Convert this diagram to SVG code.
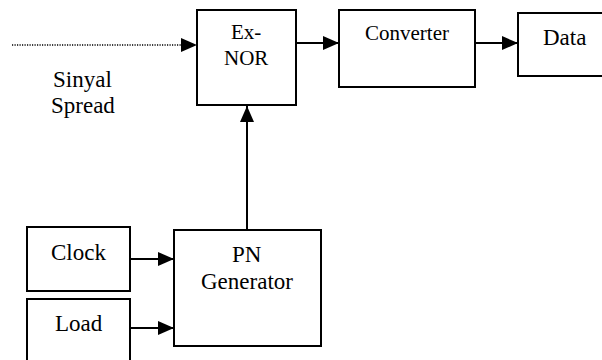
<svg xmlns="http://www.w3.org/2000/svg" width="602" height="360" viewBox="0 0 602 360">
<defs>
<marker id="ah" markerUnits="userSpaceOnUse" markerWidth="16" markerHeight="14" refX="16" refY="7" orient="auto">
<path d="M0,0 L16,7 L0,14 z" fill="#000"/>
</marker>
</defs>
<rect width="602" height="360" fill="#fff"/>
<g id="connectors" fill="none" stroke="#000" stroke-width="2">
<line x1="12" y1="45" x2="182" y2="45" stroke-width="1.5" stroke-dasharray="1.2 1.3"/>
<path d="M181,38 L197,45 L181,52 z" fill="#000" stroke="none"/>
<line x1="296" y1="43" x2="339" y2="43" marker-end="url(#ah)"/>
<line x1="475" y1="43" x2="518" y2="43" marker-end="url(#ah)"/>
<line x1="130" y1="259" x2="174" y2="259" marker-end="url(#ah)"/>
<line x1="130" y1="328" x2="174" y2="328" marker-end="url(#ah)"/>
<line x1="247" y1="230" x2="247" y2="106" marker-end="url(#ah)"/>
</g>
<g id="exnor">
<rect x="197" y="10" width="99" height="95" fill="#fff" stroke="#000" stroke-width="2"/>
<text x="231" y="39" font-size="21" style="font-family:'Liberation Serif'">Ex-</text>
<text x="224" y="65" font-size="21" style="font-family:'Liberation Serif'">NOR</text>
</g>
<g id="converter">
<rect x="339" y="10" width="136" height="77" fill="#fff" stroke="#000" stroke-width="2"/>
<text x="365" y="40" font-size="21" style="font-family:'Liberation Serif'">Converter</text>
</g>
<g id="data">
<rect x="518" y="13" width="100" height="63" fill="#fff" stroke="#000" stroke-width="2"/>
<text x="543" y="45" font-size="23" style="font-family:'Liberation Serif'">Data</text>
</g>
<g id="pngen">
<rect x="174" y="230" width="147" height="116" fill="#fff" stroke="#000" stroke-width="2"/>
<text x="232" y="262" font-size="23" style="font-family:'Liberation Serif'">PN</text>
<text x="201" y="289" font-size="23" style="font-family:'Liberation Serif'">Generator</text>
</g>
<g id="clock">
<rect x="27" y="227" width="103" height="64" fill="#fff" stroke="#000" stroke-width="2"/>
<text x="51" y="260" font-size="23" style="font-family:'Liberation Serif'">Clock</text>
</g>
<g id="load">
<rect x="27" y="299" width="103" height="80" fill="#fff" stroke="#000" stroke-width="2"/>
<text x="55" y="331" font-size="23" style="font-family:'Liberation Serif'">Load</text>
</g>
<g id="sinyal">
<text x="53" y="87" font-size="23" style="font-family:'Liberation Serif'">Sinyal</text>
<text x="51" y="113" font-size="23" style="font-family:'Liberation Serif'">Spread</text>
</g>
</svg>
